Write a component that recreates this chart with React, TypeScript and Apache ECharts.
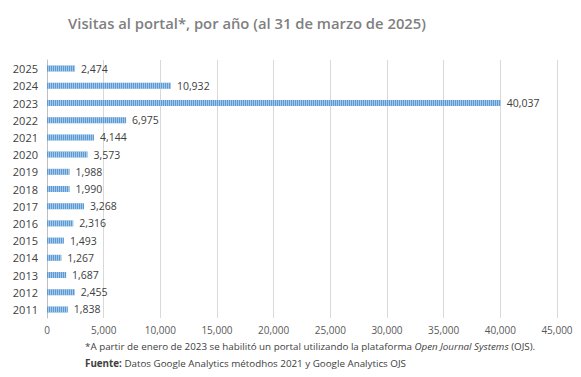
import React, { useEffect, useRef } from "react";
import * as echarts from "echarts";

const years = ["2011","2012","2013","2014","2015","2016","2017","2018","2019","2020","2021","2022","2023","2024","2025"];
const visits = [1838, 2455, 1687, 1267, 1493, 2316, 3268, 1990, 1988, 3573, 4144, 6975, 40037, 10932, 2474];
const titleText = "Visitas al portal*, por año (al 31 de marzo de 2025)";

const fmt = (n: number) => n.toLocaleString("en-US");

export default function App() {
  const ref = useRef<HTMLDivElement>(null);
  useEffect(() => {
    const chart = echarts.init(ref.current!, null, { renderer: "svg" });
    chart.setOption({
      animation: false,
      backgroundColor: "#ffffff",
      textStyle: { fontFamily: "Open Sans" },
      title: {
        text: titleText,
        left: 242,
        textAlign: "center",
        top: 10,
        textStyle: { fontSize: 14.8, fontWeight: 600, color: "#7f7f7f", fontFamily: "Open Sans" },
      },
      grid: { left: 47, right: 24, top: 60, bottom: 59, containLabel: false },
      xAxis: {
        type: "value",
        min: 0,
        max: 45000,
        interval: 5000,
        axisLine: { show: false },
        axisTick: { show: false },
        splitLine: { lineStyle: { color: "#d9d9d9", width: 1 } },
        axisLabel: { formatter: (v: number) => fmt(v), color: "#595959", fontSize: 10, margin: 7 },
      },
      yAxis: {
        type: "category",
        data: years,
        axisLine: { show: true, lineStyle: { color: "#bfbfbf" } },
        axisTick: { show: false },
        axisLabel: { color: "#404040", fontSize: 11, margin: 9 },
      },
      series: [
        {
          type: "bar",
          data: visits,
          barWidth: 6,
          itemStyle: {
            color: "#5b9bd5",
            decal: { symbol: "rect", symbolSize: 1, dashArrayX: [1, 1], dashArrayY: [4, 0], color: "rgba(255,255,255,0.45)" },
          },
          label: { show: true, position: "right", distance: 6, color: "#404040", fontSize: 10.5, formatter: (p: any) => fmt(p.value) },
        },
      ],
      graphic: [
        {
          type: "text",
          left: 85,
          top: 341,
          style: {
            text: "*A partir de enero de 2023 se habilitó un portal utilizando la plataforma {i|Open Journal Systems} (OJS).",
            rich: { i: { fontStyle: "italic", fontSize: 9.8, fill: "#404040", fontFamily: "Open Sans" } },
            fontSize: 9.8,
            fill: "#404040",
            fontFamily: "Open Sans",
          },
        },
        {
          type: "text",
          left: 85,
          top: 358,
          style: {
            text: "{b|Fuente:} Datos Google Analytics métodhos 2021 y Google Analytics OJS",
            rich: { b: { fontWeight: "bold", fontSize: 9.8, fill: "#404040", fontFamily: "Open Sans" } },
            fontSize: 9.8,
            fill: "#404040",
            fontFamily: "Open Sans",
          },
        },
      ],
    });
    return () => chart.dispose();
  }, []);
  return <div ref={ref} style={{ width: 581, height: 377, position: "absolute", left: 0, top: 0 }} />;
}
